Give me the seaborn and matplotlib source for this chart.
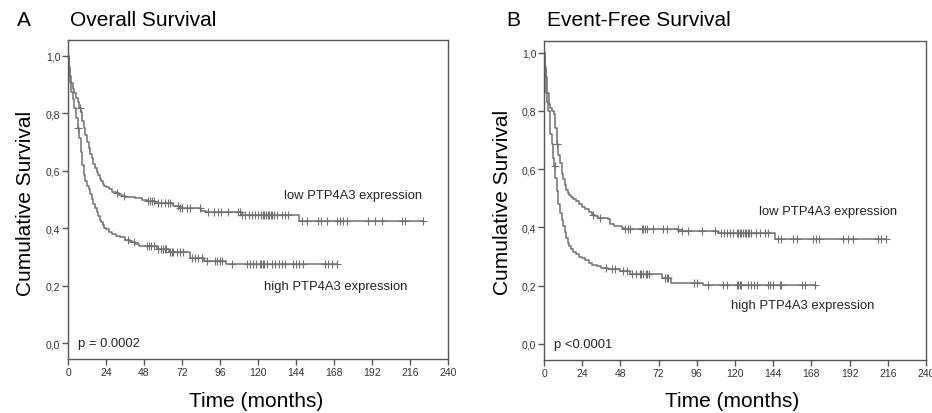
import numpy as np
import matplotlib
matplotlib.use("Agg")
import matplotlib.pyplot as plt
import seaborn as sns

# ---- data ----
# Panel A: overall survival, step curves (time in months, survival after the step)
os_low_t = [0, 0.5, 1, 2, 3, 4, 5, 6, 7, 8, 9, 10, 11, 12, 13, 14, 15, 16, 17, 18, 19, 20,
            21, 22, 23, 24, 26, 28, 30, 32, 34, 36, 42, 47, 50, 55, 66, 70, 84, 87, 109, 146]
os_low_s = [1.0, 0.96, 0.93, 0.905, 0.885, 0.87, 0.855, 0.838, 0.82, 0.804, 0.775, 0.75, 0.725,
            0.70, 0.68, 0.66, 0.643, 0.625, 0.61, 0.597, 0.585, 0.573, 0.563, 0.555, 0.548, 0.543,
            0.535, 0.527, 0.522, 0.517, 0.512, 0.507, 0.504, 0.5, 0.496, 0.488, 0.476, 0.47,
            0.461, 0.455, 0.447, 0.426]
os_low_end = 224
os_low_cens = [7.6, 31, 35.4, 50.7, 52, 53, 54, 57, 59, 61, 63, 64.4, 69.7, 71, 72, 75, 77, 83.4,
               88.4, 92.5, 94.6, 96.7, 101, 107.4, 108.6, 110, 112, 114, 116, 118, 120, 122, 123,
               124, 125, 126, 127, 128, 129, 130, 132, 135, 137, 139, 147.6, 150.7, 158, 160,
               163.6, 169.7, 171.8, 173.9, 176, 189.5, 194, 198, 210.7, 213, 224]

os_high_t = [0, 0.5, 1, 2, 3, 4, 5, 6, 7, 8, 9, 10, 11, 12, 13, 14, 15, 16, 17, 18, 19, 20, 21,
             22, 23, 24, 26, 28, 30, 33, 36, 39, 42, 45, 56, 64, 77, 86, 100]
os_high_s = [1.0, 0.95, 0.91, 0.875, 0.85, 0.82, 0.785, 0.75, 0.715, 0.665, 0.62, 0.585, 0.565,
             0.548, 0.535, 0.518, 0.502, 0.486, 0.47, 0.456, 0.442, 0.43, 0.42, 0.41, 0.402,
             0.396, 0.388, 0.38, 0.374, 0.368, 0.36, 0.352, 0.346, 0.339, 0.328, 0.316, 0.296,
             0.287, 0.275]
os_high_end = 170
os_high_cens = [6.3, 38, 41.7, 49.7, 51, 52.5, 54, 57, 59, 60, 61, 62, 64.4, 65.5, 66.5, 68.6,
                70.7, 72.8, 78, 80, 82.3, 84.4, 87.6, 92.8, 94, 96, 97, 103.4, 112.9, 115, 117,
                119, 121, 122, 123, 124, 125.5, 128.7, 130.8, 133, 135, 137, 142, 144, 146,
                148.5, 162, 164.3, 166.5, 170]

# Panel B: event-free survival
efs_low_t = [0, 0.5, 1, 2, 3, 4, 5, 6, 7, 8, 9, 10, 11, 12, 13, 14, 15, 16, 17, 18, 20, 22, 24,
             26, 28, 30, 32, 34, 40, 41.5, 44, 49, 50.5, 84.5, 109.5, 145]
efs_low_s = [1.0, 0.95, 0.915, 0.86, 0.825, 0.81, 0.8, 0.79, 0.74, 0.685, 0.65, 0.62, 0.585,
             0.565, 0.545, 0.528, 0.517, 0.51, 0.504, 0.498, 0.49, 0.48, 0.47, 0.462, 0.453,
             0.444, 0.438, 0.434, 0.43, 0.411, 0.405, 0.397, 0.394, 0.388, 0.382, 0.36]
efs_low_end = 215
efs_low_cens = [8, 31, 35, 50.9, 52.8, 54, 61.4, 62.5, 63.5, 64.5, 68.7, 75, 77, 84.4, 86.5,
                90.7, 99, 107.4, 111, 113, 115, 117, 119, 121, 122, 123, 124, 125, 126, 127,
                128, 129, 130, 133, 136, 139, 141, 147, 149, 156.5, 159, 169, 171, 173, 188,
                191, 194, 210, 212, 215]

efs_high_t = [0, 0.5, 1, 1.5, 2, 2.7, 3.5, 4, 4.8, 5.5, 6, 7, 8, 9, 10, 11, 12, 13, 14, 15, 16,
              17, 18, 20, 22, 24, 26, 28, 30, 33, 36, 40, 48, 54, 74, 80, 100]
efs_high_s = [1.0, 0.94, 0.89, 0.86, 0.83, 0.8, 0.75, 0.72, 0.685, 0.64, 0.61, 0.57, 0.525,
              0.48, 0.45, 0.425, 0.405, 0.385, 0.365, 0.348, 0.335, 0.325, 0.316, 0.308, 0.3,
              0.296, 0.288, 0.278, 0.272, 0.266, 0.262, 0.258, 0.251, 0.24, 0.228, 0.211, 0.203]
efs_high_end = 170
efs_high_cens = [6.9, 39, 42.5, 44.6, 49.8, 51.9, 55, 57.9, 60, 61, 62, 64, 65, 66, 76, 77, 78,
                 94, 96, 103, 112.5, 115, 121, 122, 123, 124, 128, 130, 132, 134, 141, 142, 144,
                 148, 149, 162, 164, 170]

x_ticks = [0, 24, 48, 72, 96, 120, 144, 168, 192, 216, 240]
y_ticks = [0.0, 0.2, 0.4, 0.6, 0.8, 1.0]
y_tick_labels = ["0,0", "0,2", "0,4", "0,6", "0,8", "1,0"]

LINE = "#707070"
SPINE = "#555555"


def step_value(t, s, c):
    idx = np.searchsorted(t, c, side="right") - 1
    return np.asarray(s)[idx]


def km_curve(ax, t, s, end, cens):
    tt = list(t) + [end]
    ss = list(s) + [s[-1]]
    sns.lineplot(x=tt, y=ss, ax=ax, color=LINE, linewidth=1.1,
                 drawstyle="steps-post", estimator=None, sort=False)
    cy = step_value(np.array(t), s, np.array(cens))
    sns.scatterplot(x=cens, y=cy, ax=ax, marker="+", s=26, color=LINE,
                    linewidth=0.8, zorder=3)


sns.set_style("white")
plt.rcParams["font.family"] = ["Liberation Sans", "DejaVu Sans"]

fig = plt.figure(figsize=(9.32, 4.14), dpi=100)
axA = fig.add_axes([68 / 932, 1 - 360 / 414, 380 / 932, 319 / 414])
axB = fig.add_axes([544 / 932, 1 - 361 / 414, 382 / 932, 319 / 414])

km_curve(axA, os_low_t, os_low_s, os_low_end, os_low_cens)
km_curve(axA, os_high_t, os_high_s, os_high_end, os_high_cens)
km_curve(axB, efs_low_t, efs_low_s, efs_low_end, efs_low_cens)
km_curve(axB, efs_high_t, efs_high_s, efs_high_end, efs_high_cens)

for ax, ylim in ((axA, (-0.0557, 1.0557)), (axB, (-0.055, 1.04))):
    ax.set_xlim(0, 240)
    ax.set_ylim(*ylim)
    ax.set_xticks(x_ticks)
    ax.set_xticklabels([str(v) for v in x_ticks])
    ax.set_yticks(y_ticks)
    ax.set_yticklabels(y_tick_labels)
    ax.tick_params(axis="both", direction="out", length=4, width=1, color=SPINE,
                   labelsize=7.5, labelcolor="#333333", pad=1.5,
                   left=True, bottom=True)
    for sp in ax.spines.values():
        sp.set_color(SPINE)
        sp.set_linewidth(1.0)
    ax.set_xlabel("Time (months)", fontsize=15, color="black")
    ax.set_ylabel("Cumulative Survival", fontsize=15, color="black")

axA.yaxis.set_label_coords(-0.087, 0.492)
axA.xaxis.set_label_coords(0.495, -0.10)
axB.yaxis.set_label_coords(-0.084, 0.498)
axB.xaxis.set_label_coords(0.492, -0.097)

# curve labels and p-values
axA.text(136.4, 0.515, "low PTP4A3 expression", fontsize=9.4, va="center", color="#222222")
axA.text(124, 0.199, "high PTP4A3 expression", fontsize=9.4, va="center", color="#222222")
axA.text(6.5, 0.0, "p = 0.0002", fontsize=9.4, va="center", color="#222222")
axB.text(134.8, 0.457, "low PTP4A3 expression", fontsize=9.4, va="center", color="#222222")
axB.text(117.8, 0.134, "high PTP4A3 expression", fontsize=9.4, va="center", color="#222222")
axB.text(6.3, 0.0, "p <0.0001", fontsize=9.4, va="center", color="#222222")

# panel titles
fig.text(17 / 932, 1 - 20 / 414, "A", fontsize=15, va="center", ha="left", color="black")
fig.text(70 / 932, 1 - 20 / 414, "Overall Survival", fontsize=15, va="center", ha="left",
         color="black")
fig.text(506 / 932, 1 - 21 / 414, "B", fontsize=15, va="center", ha="left", color="black")
fig.text(547 / 932, 1 - 21 / 414, "Event-Free Survival", fontsize=15, va="center", ha="left",
         color="black")

fig.savefig("out.png", dpi=100)
